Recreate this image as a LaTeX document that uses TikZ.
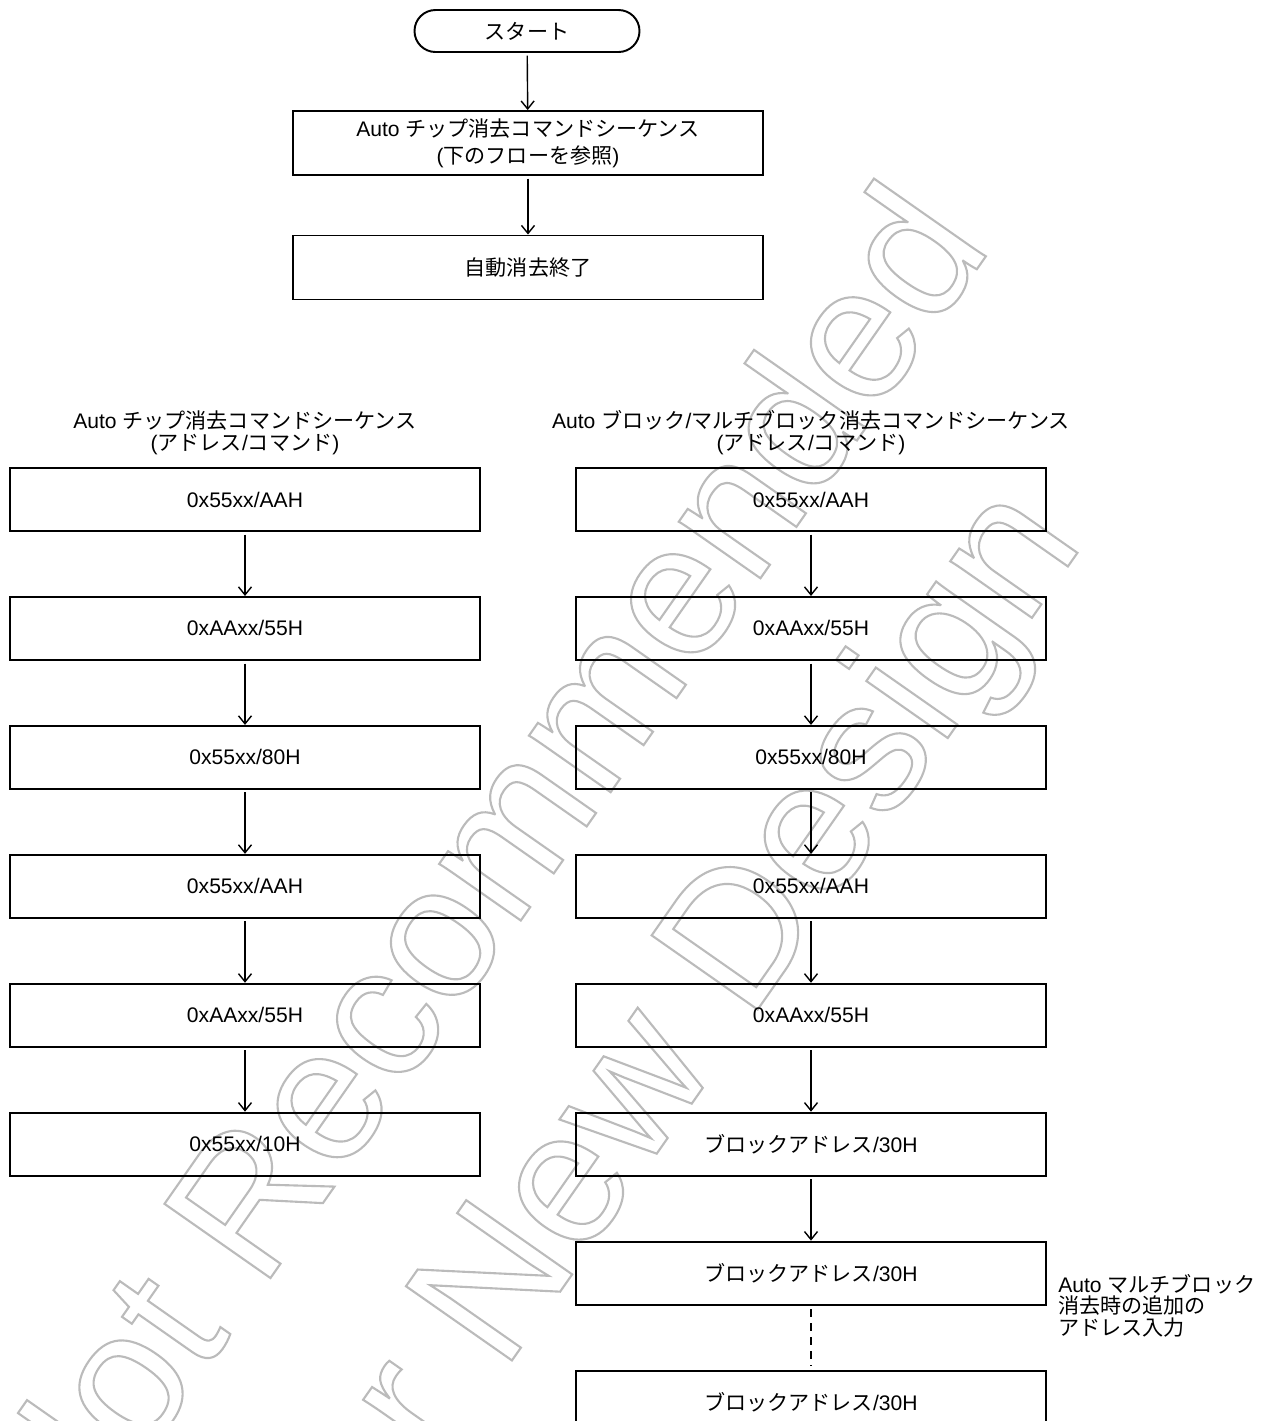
\documentclass[tikz,border=0pt]{standalone}
\usepackage{fontspec}
\setmainfont{Liberation Sans}
\newfontfamily\jpfont{Noto Sans CJK JP}
\usepackage{tikz}
\usetikzlibrary{arrows.meta,positioning}
\definecolor{markGray}{HTML}{BBBBBB}
\newcommand{\ja}[1]{{\jpfont #1}}
\newcommand{\hollow}[1]{\special{pdf:literal direct 1 Tr 1.2 w}#1\special{pdf:literal direct 0 Tr}}

\begin{document}
\begin{tikzpicture}[>={Straight Barb[length=1.6mm,width=2.6mm]},
    font=\fontsize{12}{12.5}\selectfont,
    node distance=1.28cm,
    box/.style={draw,line width=1.1pt,minimum width=9.4cm,minimum height=1.26cm,inner sep=0pt,align=center},
    flow/.style={->,line width=0.8pt,shorten <=1.5pt},
    title/.style={align=center,inner sep=0pt}]
    \useasboundingbox (0,0) rectangle (25.36,-28.42);
    % watermark behind the flow
    \begin{scope}[markGray]
      \node[rotate=55,anchor=base,inner sep=0pt] (mark1) at (10.57,-18.19)
        {\fontsize{107}{107}\selectfont\hollow{Not Recommended}};
      \node[rotate=55,anchor=base,inner sep=0pt] (mark2) at (14.32,-21.38)
        {\fontsize{107}{107}\selectfont\hollow{for New Design}};
    \end{scope}
    % top flow
    \node[box,rounded corners=0.42cm,minimum width=4.5cm,minimum height=0.84cm] (start) at (10.54,-0.62) {\ja{スタート}};
    \node[box,minimum height=1.28cm] (seq) at (10.56,-2.86)
      {Auto \ja{チップ消去コマンドシーケンス}\\[3pt](\ja{下のフローを参照})};
    \node[box,minimum height=1.28cm] (done) at (10.56,-5.35) {\ja{自動消去終了}};
    % chip erase sequence
    \node[box] (l1) at (4.9,-9.99) {0x55xx/AAH};
    \node[box,below=of l1] (l2) {0xAAxx/55H};
    \node[box,below=of l2] (l3) {0x55xx/80H};
    \node[box,below=of l3] (l4) {0x55xx/AAH};
    \node[box,below=of l4] (l5) {0xAAxx/55H};
    \node[box,below=of l5] (l6) {0x55xx/10H};
    \node[title,above=0.24cm of l1] (ltitle) {Auto \ja{チップ消去コマンドシーケンス}\\(\ja{アドレス}/\ja{コマンド})};
    % block / multi-block erase sequence
    \node[box] (r1) at (16.22,-9.99) {0x55xx/AAH};
    \node[box,below=of r1] (r2) {0xAAxx/55H};
    \node[box,below=of r2] (r3) {0x55xx/80H};
    \node[box,below=of r3] (r4) {0x55xx/AAH};
    \node[box,below=of r4] (r5) {0xAAxx/55H};
    \node[box,below=of r5] (r6) {\ja{ブロックアドレス}/30H};
    \node[box,below=of r6] (r7) {\ja{ブロックアドレス}/30H};
    \node[box,below=of r7] (r8) {\ja{ブロックアドレス}/30H};
    \node[title,above=0.24cm of r1] (rtitle) {Auto \ja{ブロック}/\ja{マルチブロック消去コマンドシーケンス}\\(\ja{アドレス}/\ja{コマンド})};
    \node[title,align=left,anchor=north west] (addnote) at ([xshift=0.22cm,yshift=0.64cm]r7.south east)
      {Auto \ja{マルチブロック}\\\ja{消去時の追加の}\\\ja{アドレス入力}};
    % connectors
    \foreach \a/\b in {start/seq,seq/done,l1/l2,l2/l3,l3/l4,l4/l5,l5/l6,r1/r2,r2/r3,r3/r4,r4/r5,r5/r6,r6/r7}
      \draw[flow] (\a) -- (\b);
    \draw[line width=0.8pt,dash pattern=on 4.5pt off 3.5pt,shorten <=2pt,shorten >=2pt] (r7) -- (r8);
\end{tikzpicture}
\end{document}
